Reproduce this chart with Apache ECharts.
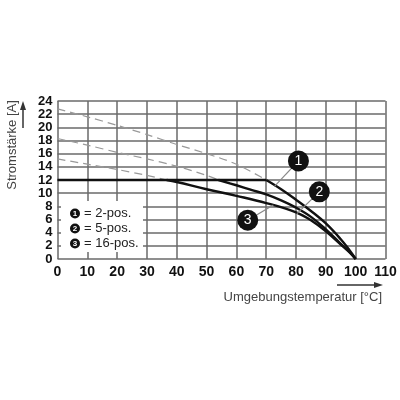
<!DOCTYPE html>
<html><head><meta charset="utf-8">
<script src="https://cdn.jsdelivr.net/npm/echarts@6/dist/echarts.min.js"></script>
<style>html,body{margin:0;padding:0;background:#fff}#c{width:400px;height:400px}</style>
</head><body><div id="c"></div>
<script>
// Axis ticks
const xTicks = [0,10,20,30,40,50,60,70,80,90,100,110];
const yTicks = [0,2,4,6,8,10,12,14,16,18,20,22,24];
// Flat rated-current segment (shared by all curves)
const flatLine = [[0,12],[70,12]];
// Derating curves (solid)
const curve1 = [[70,12],[75,10.6],[80,9.0],[85,7.3],[90,5.4],[95,3.0],[98,1.3],[100,0]];
const curve2 = [[54,12],[60,11.2],[65,10.5],[70,9.8],[75,8.9],[80,7.8],[85,6.4],[90,4.5],[95,2.3],[98,1.0],[100,0]];
const curve3 = [[36.6,12],[40,11.7],[50,10.6],[60,9.6],[70,8.5],[80,7.1],[85,5.9],[90,4.2],[95,2.2],[98,1.0],[100,0]];
// Base curves (dashed)
const dashed1 = [[0,22.8],[10,21.6],[20,20.3],[30,18.9],[40,17.4],[50,16.0],[60,14.4],[70,12]];
const dashed2 = [[0,18.3],[10,17.3],[20,16.2],[30,15.2],[40,14.1],[50,12.7],[54,12]];
const dashed3 = [[0,15.2],[10,14.4],[20,13.6],[30,12.7],[36.6,12]];
// Callouts: label, circle position, leader end (data coords)
const calloutLabels = ['1','2','3'];
const calloutPos = [[80.8,14.9],[87.8,10.2],[63.8,5.9]];
const calloutTarget = [[72.7,11.0],[80.3,6.9],[72.4,8.2]];
// Legend entries
const legendNums = ['1','2','3'];
const legendTexts = ['= 2-pos.','= 5-pos.','= 16-pos.'];

const chart = echarts.init(document.getElementById('c'), null, {renderer:'canvas'});
const gridColor = '#6a6a6a';
const solid = (name, data, smooth) => ({
  name, type:'line', data, smooth, showSymbol:false, symbol:'none', z:5,
  lineStyle:{color:'#111', width:2.4}
});
const dash = (name, data) => ({
  name, type:'line', data, smooth:0.3, showSymbol:false, symbol:'none', z:3,
  lineStyle:{color:'#999', width:1.2, type:[8,5]}
});
const series = [
  dash('d1', dashed1), dash('d2', dashed2), dash('d3', dashed3),
  solid('flat', flatLine, false),
  solid('c1', curve1, 0.4), solid('c2', curve2, 0.4), solid('c3', curve3, 0.4)
];
calloutPos.forEach((p, i) => {
  series.push({
    type:'line', data:[p, calloutTarget[i]], showSymbol:false, symbol:'none', z:6,
    lineStyle:{color:'#888', width:1.2}
  });
});
series.push({
  type:'scatter', z:10, symbol:'circle', symbolSize:21,
  itemStyle:{color:'#111', opacity:1},
  emphasis:{disabled:true},
  data: calloutPos.map((p,i)=>({value:p, label:{formatter:calloutLabels[i]}})),
  label:{show:true, position:'inside', color:'#fff', fontSize:14, fontFamily:'Liberation Sans, Arial, sans-serif'}
});

const legendGraphics = [{
  type:'rect', shape:{x:61, y:201, width:82, height:51}, style:{fill:'#fff'}, z:20
}];
legendNums.forEach((n,i)=>{
  const cy = 213.5 + i*15;
  legendGraphics.push({type:'circle', shape:{cx:75, cy, r:5}, style:{fill:'#111'}, z:21});
  legendGraphics.push({type:'text', x:75, y:cy, style:{text:n, fill:'#fff', font:'bold 8px Liberation Sans, Arial', align:'center', verticalAlign:'middle'}, z:22});
  legendGraphics.push({type:'text', x:84, y:cy, style:{text:legendTexts[i], fill:'#222', font:'13px Liberation Sans, Arial', align:'left', verticalAlign:'middle'}, z:22});
});

const labelBase = {color:'#111', fontWeight:'bold', fontFamily:'Liberation Sans, Arial, sans-serif', hideOverlap:false};
chart.setOption({
  animation:false,
  backgroundColor:'#fff',
  grid:{left:57.5, right:14.5, top:101, bottom:141, containLabel:false},
  xAxis:{
    type:'value', min:0, max:110, interval:10,
    axisLine:{show:false}, axisTick:{show:false},
    axisLabel:Object.assign({fontSize:14, margin:6, showMinLabel:true, showMaxLabel:true,
      formatter:(v)=>xTicks.includes(v)?String(v):''}, labelBase),
    splitLine:{show:true, lineStyle:{color:gridColor, width:1.5}}
  },
  yAxis:{
    type:'value', min:0, max:24, interval:2,
    axisLine:{show:false}, axisTick:{show:false},
    axisLabel:Object.assign({fontSize:13, lineHeight:12, margin:5,
      formatter:(v)=>yTicks.includes(v)?String(v):''}, labelBase),
    splitLine:{show:true, lineStyle:{color:gridColor, width:1.5}}
  },
  series,
  graphic:[
    ...legendGraphics,
    {type:'text', x:12, y:145, rotation:Math.PI/2,
      style:{text:'Stromstärke [A]', fill:'#444', font:'13px Liberation Sans, Arial', align:'center', verticalAlign:'middle'}},
    {type:'line', shape:{x1:23, y1:128, x2:23, y2:108}, style:{stroke:'#333', lineWidth:1.5}},
    {type:'polygon', shape:{points:[[23,101],[20,110],[26,110]]}, style:{fill:'#333'}},
    {type:'text', x:382, y:297, style:{text:'Umgebungstemperatur [°C]', fill:'#444', font:'13px Liberation Sans, Arial', align:'right', verticalAlign:'middle'}},
    {type:'line', shape:{x1:337, y1:285, x2:376, y2:285}, style:{stroke:'#333', lineWidth:1.5}},
    {type:'polygon', shape:{points:[[383,285],[374,282],[374,288]]}, style:{fill:'#333'}}
  ]
});
</script></body></html>
